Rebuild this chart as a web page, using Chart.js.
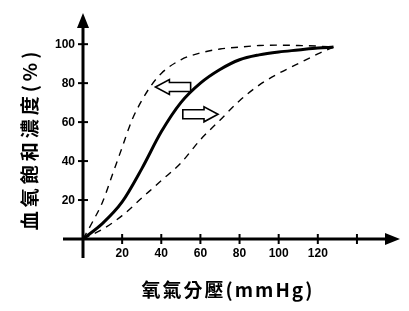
<!DOCTYPE html>
<html><head><meta charset="utf-8">
<script src="https://cdn.jsdelivr.net/npm/chart.js@4/dist/chart.umd.min.js"></script>
<style>html,body{margin:0;padding:0;background:#fff}#wrap{width:409px;height:311px}</style>
</head><body><div id="wrap"><canvas id="c" width="409" height="311"></canvas></div>
<script>
const pressure = [0,10,20,30,40,50,60,70,80,90,100,110,120,128];
const normalSat = [0,8,19,36,55,70,80,87,92,94.5,96,97,98,98.5];
const leftPressure = [0,5,10,15,20,25,30,35,40,50,60,70,80,90,100,110,120,128];
const leftSat = [0,9,19,33,47,61,71,79,85,92,95.5,97.5,98.5,99.3,99.5,99.3,99,98.5];
const rightPressure = [0,10,20,30,40,50,60,70,80,90,100,110,120,128];
const rightSat = [0,5,12,21,30,39,51,61,71,79,85,90,95,98.5];
const xTicks = [20,40,60,80,100,120,140];
const xTickLabels = ['20','40','60','80','100','120',''];
const yTicks = [20,40,60,80,100];
const yTickLabels = ['20','40','60','80','100'];
const xTitle = '氧氣分壓(mmHg)';
const yTitle = '血氧飽和濃度(%)';
const shiftArrows = [{from:55,to:37,y:78},{from:51,to:69,y:64}];

const pts = (xs,ys)=>xs.map((x,i)=>({x,y:ys[i]}));

const deco = {
  id:'deco',
  afterDatasetsDraw(chart){
    const ctx = chart.ctx, xs = chart.scales.x, ys = chart.scales.y;
    const x0 = xs.getPixelForValue(0), y0 = ys.getPixelForValue(0);
    const xEnd = chart.chartArea.right, yTop = chart.chartArea.top;
    ctx.save();
    ctx.strokeStyle='#000'; ctx.fillStyle='#000'; ctx.lineWidth=3;
    ctx.beginPath(); ctx.moveTo(x0-20,y0); ctx.lineTo(xEnd-12,y0); ctx.stroke();
    ctx.beginPath(); ctx.moveTo(x0,y0+19); ctx.lineTo(x0,yTop+12); ctx.stroke();
    ctx.beginPath(); ctx.moveTo(xEnd,y0); ctx.lineTo(xEnd-15,y0-6); ctx.lineTo(xEnd-15,y0+6); ctx.closePath(); ctx.fill();
    ctx.beginPath(); ctx.moveTo(x0,yTop); ctx.lineTo(x0-6,yTop+15); ctx.lineTo(x0+6,yTop+15); ctx.closePath(); ctx.fill();
    ctx.lineWidth=2;
    ctx.font='bold 12px "Liberation Sans", Arial, sans-serif';
    ctx.textAlign='center'; ctx.textBaseline='middle';
    xTicks.forEach((v,i)=>{
      const p = xs.getPixelForValue(v);
      ctx.beginPath(); ctx.moveTo(p,y0-5); ctx.lineTo(p,y0+5); ctx.stroke();
      ctx.fillText(xTickLabels[i], p, y0+15);
    });
    ctx.textAlign='right';
    yTicks.forEach((v,i)=>{
      const p = ys.getPixelForValue(v);
      ctx.beginPath(); ctx.moveTo(x0-5,p); ctx.lineTo(x0+5,p); ctx.stroke();
      ctx.fillText(yTickLabels[i], x0-8, p+1);
    });
    // titles
    ctx.font='bold 19px "Noto Sans CJK TC", "Noto Sans CJK SC", serif';
    ctx.textAlign='center';
    ctx.letterSpacing='2px';
    ctx.fillText(xTitle, 228, 290);
    ctx.save(); ctx.translate(30,139); ctx.rotate(-Math.PI/2);
    ctx.letterSpacing='4px';
    ctx.fillText(yTitle,0,0); ctx.restore();
    ctx.letterSpacing='0px';
    // hollow shift arrows
    ctx.lineWidth=1.6; ctx.fillStyle='#fff';
    shiftArrows.forEach(a=>{
      const t = xs.getPixelForValue(a.from), h = xs.getPixelForValue(a.to), cy = ys.getPixelForValue(a.y);
      const dir = Math.sign(h-t), headL=14, sh=4.5, hh=7.5;
      const b = h - dir*headL;
      ctx.beginPath();
      ctx.moveTo(t,cy-sh); ctx.lineTo(b,cy-sh); ctx.lineTo(b,cy-hh); ctx.lineTo(h,cy);
      ctx.lineTo(b,cy+hh); ctx.lineTo(b,cy+sh); ctx.lineTo(t,cy+sh); ctx.closePath();
      ctx.fill(); ctx.stroke();
    });
    ctx.restore();
  }
};

new Chart(document.getElementById('c'),{
  type:'line',
  data:{datasets:[
    {data:pts(pressure,normalSat),borderColor:'#000',borderWidth:3,pointRadius:0,cubicInterpolationMode:'monotone'},
    {data:pts(leftPressure,leftSat),borderColor:'#000',borderWidth:1.4,borderDash:[7,6],pointRadius:0,cubicInterpolationMode:'monotone'},
    {data:pts(rightPressure,rightSat),borderColor:'#000',borderWidth:1.4,borderDash:[7,6],pointRadius:0,cubicInterpolationMode:'monotone'}
  ]},
  options:{
    responsive:false,animation:false,
    layout:{padding:{left:83,right:9,top:13,bottom:72}},
    plugins:{legend:{display:false},tooltip:{enabled:false}},
    scales:{
      x:{type:'linear',min:0,max:162,display:false},
      y:{type:'linear',min:0,max:116,display:false}
    }
  },
  plugins:[deco]
});
</script></body></html>
